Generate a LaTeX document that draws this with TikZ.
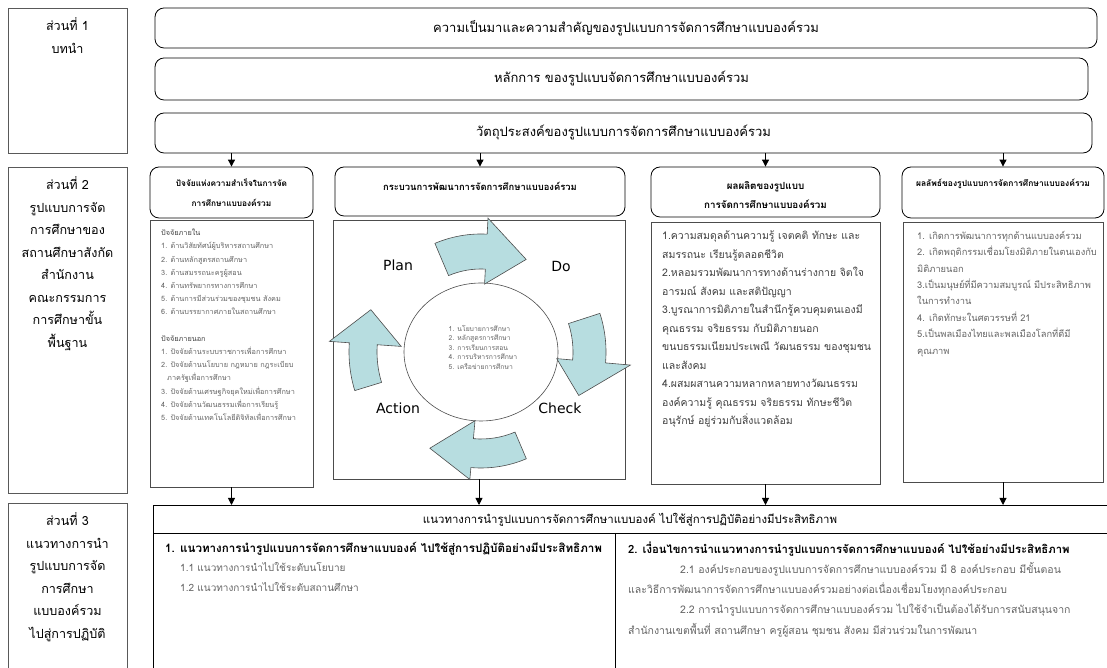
\documentclass[tikz,border=0pt]{standalone}
\usepackage{fontspec}
\setmainfont[Script=Thai]{Loma}
\newfontfamily\pdcafont{DejaVu Sans}
\usetikzlibrary{arrows.meta,shapes.geometric}
\definecolor{cTeal}{RGB}{183,221,224}
\definecolor{cGrayText}{RGB}{100,100,100}
\definecolor{cDarkText}{RGB}{64,64,64}

\tikzset{
  partbox/.style={draw=black!65, line width=0.9pt, minimum width=119pt, inner sep=0pt},
  parttext/.style={align=center, inner sep=0pt, font=\fontsize{12.6}{22.5}\selectfont},
  topbox/.style={draw=black, line width=0.8pt, rounded corners=9pt, inner sep=0pt, font=\fontsize{13}{16}\selectfont},
  headbox/.style={draw=black, line width=0.8pt, rounded corners=9pt, inner sep=0pt},
  headtext/.style={align=center, inner sep=0pt, font=\bfseries\fontsize{9.4}{20}\selectfont},
  listbox/.style={draw=black!70, line width=0.9pt, inner sep=0pt},
  listtext/.style={align=left, anchor=north west, inner sep=0pt},
  cyclearrow/.style={draw=black!70, fill=cTeal, line width=0.6pt},
  flow/.style={-{Triangle[length=7pt,width=7pt]}, line width=0.9pt},
}

\begin{document}
\begin{tikzpicture}[x=1pt,y=1pt]
\useasboundingbox (0,0) rectangle (1107,668);

% parts on the left
\node[partbox, minimum height=145pt] (part1) at (67.5,587.5) {};
\node[parttext, anchor=north] (part1txt) at ([yshift=-10pt]part1.north) {ส่วนที่ 1\\บทนำ};
\node[partbox, minimum height=326pt] (part2) at (67.5,338) {};
\node[parttext, anchor=north] (part2txt) at ([yshift=-10pt]part2.north) {ส่วนที่ 2\\รูปแบบการจัด\\การศึกษาของ\\สถานศึกษาสังกัด\\สำนักงาน\\คณะกรรมการ\\การศึกษาขั้น\\พื้นฐาน};
\node[partbox, minimum height=170pt] (part3) at (67.5,80) {};
\node[parttext, anchor=north] (part3txt) at ([yshift=-10pt]part3.north) {ส่วนที่ 3\\แนวทางการนำ\\รูปแบบการจัด\\การศึกษา\\แบบองค์รวม\\ไปสู่การปฏิบัติ};

% part 1
\node[topbox, minimum width=942pt, minimum height=40pt] (background) at (626,640) {ความเป็นมาและความสำคัญของรูปแบบการจัดการศึกษาแบบองค์รวม};
\node[topbox, minimum width=933pt, minimum height=42pt] (principle) at (621.5,589) {หลักการ ของรูปแบบจัดการศึกษาแบบองค์รวม};
\node[topbox, minimum width=937pt, minimum height=40pt] (objective) at (623.5,535) {วัตถุประสงค์ของรูปแบบการจัดการศึกษาแบบองค์รวม};

% part 2 headers
\node[headbox, minimum width=163pt, minimum height=51pt] (factors) at (231.5,475.5) {};
\node[headtext, font=\bfseries\fontsize{8.3}{20}\selectfont] (factorshd) at (231.5,475) {ปัจจัยแห่งความสำเร็จในการจัด\\การศึกษาแบบองค์รวม};
\node[headbox, minimum width=290pt, minimum height=49pt] (process) at (480,476.5) {};
\node[headtext] (processhd) at (480,482) {กระบวนการพัฒนาการจัดการศึกษาแบบองค์รวม};
\node[headbox, minimum width=229pt, minimum height=50pt] (output) at (765.5,476) {};
\node[headtext, font=\bfseries\fontsize{9.8}{19}\selectfont] (outputhd) at (765.5,472.5) {ผลผลิตของรูปแบบ\\การจัดการศึกษาแบบองค์รวม};
\node[headbox, minimum width=202pt, minimum height=51pt] (outcome) at (1003,475.5) {};
\node[headtext, font=\bfseries\fontsize{8.5}{20}\selectfont] (outcomehd) at (1003,484) {ผลลัพธ์ของรูปแบบการจัดการศึกษาแบบองค์รวม};

\draw[flow] (factors.north |- objective.south) -- (factors.north);
\draw[flow] (process.north |- objective.south) -- (process.north);
\draw[flow] (output.north |- objective.south) -- (output.north);
\draw[flow] (outcome.north |- objective.south) -- (outcome.north);

% factors
\node[listbox, minimum width=163pt, minimum height=267pt] (factorlist) at (231.5,314.5) {};
\node[listtext, font=\fontsize{7.3}{13.2}\selectfont, text=cGrayText] (factortxt) at (161,439) {{\color{cDarkText}ปัจจัยภายใน}\\
1. ด้านวิสัยทัศน์ผู้บริหารสถานศึกษา\\
2. ด้านหลักสูตรสถานศึกษา\\
3. ด้านสมรรถนะครูผู้สอน\\
4. ด้านทรัพยากรทางการศึกษา\\
5. ด้านการมีส่วนร่วมของชุมชน สังคม\\
6. ด้านบรรยากาศภายในสถานศึกษา\\[13.2pt]
{\color{cDarkText}ปัจจัยภายนอก}\\
1. ปัจจัยด้านระบบราชการเพื่อการศึกษา\\
2. ปัจจัยด้านนโยบาย กฎหมาย กฎระเบียบ\\
\hspace*{6pt}ภาครัฐเพื่อการศึกษา\\
3. ปัจจัยด้านเศรษฐกิจยุคใหม่เพื่อการศึกษา\\
4. ปัจจัยด้านวัฒนธรรมเพื่อการเรียนรู้\\
5. ปัจจัยด้านเทคโนโลยีดิจิทัลเพื่อการศึกษา};

% process: PDCA
\node[listbox, minimum width=292pt, minimum height=259pt] (cycle) at (479,318.5) {};
\node[draw=black!70, line width=0.6pt, ellipse, minimum width=154pt, minimum height=138pt, inner sep=0pt] (core) at (481,316) {};
\node[align=left, inner sep=0pt, font=\fontsize{6.8}{9.5}\selectfont, text=cGrayText] (coretxt) at (483,321) {1. นโยบายการศึกษา\\2. หลักสูตรการศึกษา\\3. การเรียนการสอน\\4. การบริหารการศึกษา\\5. เครือข่ายการศึกษา};
\node[font=\pdcafont\fontsize{14}{16}\selectfont] (plan) at (398,403) {Plan};
\node[font=\pdcafont\fontsize{14}{16}\selectfont] (do) at (561,401) {Do};
\node[font=\pdcafont\fontsize{14}{16}\selectfont] (check) at (560,260) {Check};
\node[font=\pdcafont\fontsize{14}{16}\selectfont] (action) at (398,260) {Action};
\begin{scope}[shift={(core.center)}]
  \draw[cyclearrow] (113:118) arc[start angle=113, end angle=87, radius=118] -- (87:134) -- (64:103) -- (87:68) -- (87:83) arc[start angle=87, end angle=113, radius=83] -- cycle;
  \draw[cyclearrow] (18:125) arc[start angle=18, end angle=-5, radius=125] -- (-5:150) -- (-24:107) -- (-5:76) -- (-5:92) arc[start angle=-5, end angle=18, radius=92] -- cycle;
  \draw[cyclearrow] (-67:116) arc[start angle=-67, end angle=-95, radius=116] -- (-95:128) -- (-118:109) -- (-95:69) -- (-95:87) arc[start angle=-95, end angle=-67, radius=87] -- cycle;
  \draw[cyclearrow] (197:132) arc[start angle=197, end angle=176, radius=132] -- (176:152) -- (159:118) -- (176:80) -- (176:104) arc[start angle=176, end angle=197, radius=104] -- cycle;
\end{scope}

% outputs
\node[listbox, minimum width=229pt, minimum height=262pt] (outputlist) at (765.5,315) {};
\node[listtext, font=\fontsize{10.5}{18.5}\selectfont, text=cDarkText] (outputtxt) at (662,437) {1.ความสมดุลด้านความรู้ เจตคติ ทักษะ และ\\
สมรรถนะ เรียนรู้ตลอดชีวิต\\
2.หลอมรวมพัฒนาการทางด้านร่างกาย จิตใจ\\
อารมณ์ สังคม และสติปัญญา\\
3.บูรณาการมิติภายในสำนึกรู้ควบคุมตนเองมี\\
คุณธรรม จริยธรรม กับมิติภายนอก\\
ขนบธรรมเนียมประเพณี วัฒนธรรม ของชุมชน\\
และสังคม\\
4.ผสมผสานความหลากหลายทางวัฒนธรรม\\
องค์ความรู้ คุณธรรม จริยธรรม ทักษะชีวิต\\
อนุรักษ์ อยู่ร่วมกับสิ่งแวดล้อม};

% outcomes
\node[listbox, minimum width=200pt, minimum height=260pt] (outcomelist) at (1003,316) {};
\node[listtext, font=\fontsize{9.3}{16.4}\selectfont, text=cGrayText] (outcometxt) at (917,437) {1. เกิดการพัฒนาการทุกด้านแบบองค์รวม\\
2. เกิดพฤติกรรมเชื่อมโยงมิติภายในตนเองกับ\\
มิติภายนอก\\
3.เป็นมนุษย์ที่มีความสมบูรณ์ มีประสิทธิภาพ\\
ในการทำงาน\\
4. เกิดทักษะในศตวรรษที่ 21\\
5.เป็นพลเมืองไทยและพลเมืองโลกที่ดีมี\\
คุณภาพ};

% part 3
\node[draw=black, line width=0.9pt, inner sep=0pt, minimum width=957pt, minimum height=168pt, anchor=north west] (guide) at (153,163) {};
\coordinate (guidesplit) at (153,135);
\draw[line width=0.9pt] (guidesplit) -- (guidesplit -| guide.east);
\draw[line width=0.9pt] (615,135) -- (615,-5);

\draw[flow] (factorlist.south) -- (factorlist.south |- guide.north);
\draw[flow] (cycle.south) -- (cycle.south |- guide.north);
\draw[flow] (outputlist.south) -- (outputlist.south |- guide.north);
\draw[flow] (outcomelist.south) -- (outcomelist.south |- guide.north);

\node[inner sep=0pt, font=\fontsize{11.4}{15}\selectfont] (guidetitle) at (630,148) {แนวทางการนำรูปแบบการจัดการศึกษาแบบองค์ ไปใช้สู่การปฏิบัติอย่างมีประสิทธิภาพ};
\node[anchor=west, inner sep=0pt, font=\bfseries\fontsize{11.6}{15}\selectfont] (policyhd) at (165,119) {1. แนวทางการนำรูปแบบการจัดการศึกษาแบบองค์ ไปใช้สู่การปฏิบัติอย่างมีประสิทธิภาพ};
\node[listtext, font=\fontsize{10}{20.3}\selectfont, text=cGrayText] (policytxt) at (180,106) {1.1 แนวทางการนำไปใช้ระดับนโยบาย\\1.2 แนวทางการนำไปใช้ระดับสถานศึกษา};
\node[anchor=west, inner sep=0pt, font=\bfseries\fontsize{11.3}{15}\selectfont] (conditionhd) at (628,119) {2. เงื่อนไขการนำแนวทางการนำรูปแบบการจัดการศึกษาแบบองค์ ไปใช้อย่างมีประสิทธิภาพ};
\node[listtext, font=\fontsize{10.5}{20.3}\selectfont, text=cGrayText] (conditiontxt) at (628,106) {\hspace*{52pt}2.1 องค์ประกอบของรูปแบบการจัดการศึกษาแบบองค์รวม มี 8 องค์ประกอบ มีขั้นตอน\\
และวิธีการพัฒนาการจัดการศึกษาแบบองค์รวมอย่างต่อเนื่องเชื่อมโยงทุกองค์ประกอบ\\
\hspace*{52pt}2.2 การนำรูปแบบการจัดการศึกษาแบบองค์รวม ไปใช้จำเป็นต้องได้รับการสนับสนุนจาก\\
สำนักงานเขตพื้นที่ สถานศึกษา ครูผู้สอน ชุมชน สังคม มีส่วนร่วมในการพัฒนา};
\end{tikzpicture}
\end{document}
